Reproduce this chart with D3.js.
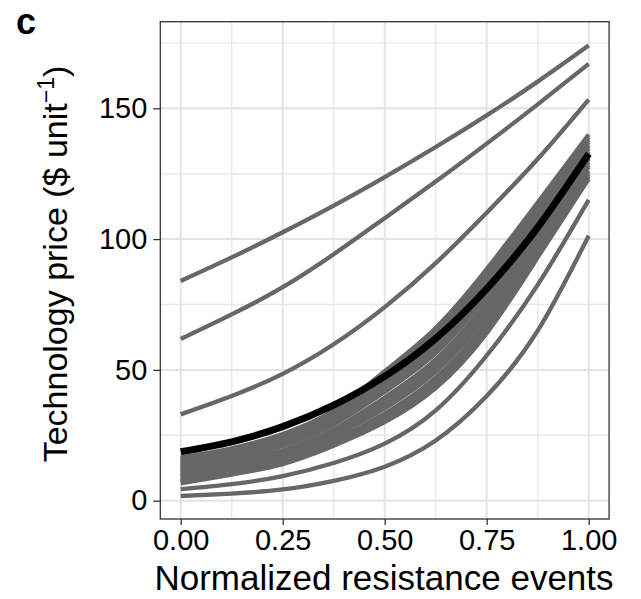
<!DOCTYPE html>
<html><head><meta charset="utf-8">
<script src="https://cdn.jsdelivr.net/npm/d3@7"></script>
<style>body{margin:0;background:#fff;} svg{display:block;font-family:"Liberation Sans",Arial,sans-serif;}</style>
</head><body>
<script>
// ---- data (x = normalized resistance events) ----
const xPoints = [0, 0.125, 0.25, 0.375, 0.5, 0.625, 0.75, 0.875, 1];
const xTicks = [0, 0.25, 0.5, 0.75, 1];
const xTickLabels = ["0.00", "0.25", "0.50", "0.75", "1.00"];
const yTicks = [0, 50, 100, 150];
const yTickLabels = ["0", "50", "100", "150"];

// grey scenario curves (technology price, $/unit)
const line1 = [84, 93, 102.6, 112.8, 123.7, 135.2, 147.3, 160.2, 174];
const line2 = [61.8, 71.2, 81.6, 94.2, 108, 122, 136.5, 151.5, 167];
const line3 = [33, 40, 48.5, 59.8, 74, 90.8, 110.1, 130.6, 153.3];
const b01 = [16.5, 20, 25.5, 34.5, 49.5, 66, 88.5, 114, 140];
const b02 = [15.9, 19.4, 24.8, 33.7, 48.4, 64.6, 87, 112.7, 139];
const b03 = [15.3, 18.8, 24.1, 32.9, 47.3, 63.2, 85.6, 111.5, 138];
const b04 = [14.7, 18.2, 23.4, 32.1, 46.1, 61.9, 84.1, 110.2, 136.9];
const b05 = [14, 17.5, 22.6, 31.1, 44.9, 60.3, 82.4, 108.8, 135.8];
const b06 = [13.4, 16.9, 21.9, 30.3, 43.7, 58.9, 80.9, 107.5, 134.7];
const b07 = [12.8, 16.3, 21.2, 29.5, 42.5, 57.5, 79.4, 106.2, 133.7];
const b08 = [12.1, 15.8, 20.9, 29.1, 41.6, 56.4, 78.3, 105.3, 132.8];
const b09 = [11.6, 14.8, 19.3, 27.3, 39.4, 54, 75.8, 103, 131.2];
const b10 = [11, 14.4, 19.1, 26.9, 38.7, 53.1, 74.8, 102.2, 130.5];
const b11 = [10.4, 13.8, 18.4, 26.1, 37.5, 51.7, 73.3, 101, 129.5];
const b12 = [9.7, 13.1, 17.6, 25.2, 36.1, 50.1, 71.6, 99.5, 128.3];
const b13 = [9.3, 12.8, 17.3, 24.8, 35.3, 49.2, 70.5, 98.7, 127.5];
const b14 = [8.3, 11.5, 15.8, 23.2, 33.3, 47, 68.2, 96.6, 126];
const b15 = [7.8, 11.2, 15.4, 22.6, 32.3, 45.8, 66.9, 95.5, 125];
const b16 = [7.2, 10.6, 14.7, 21.8, 31.1, 44.4, 65.4, 94.3, 124];
const b17 = [6.6, 10, 14, 21, 30, 43, 64, 93, 123];
const lower = [4.4, 6.3, 9.4, 14.4, 21.8, 34.5, 55.5, 82.5, 115];
const lowest = [1.8, 2.7, 4.3, 7.6, 13, 23, 40, 65, 101.3];
// central (black) curve
const central = [18.7, 22.5, 28.3, 36.5, 47.5, 62, 81, 104.5, 132.6];

const greySeries = [line1, line2, line3, b01, b02, b03, b04, b05, b06, b07, b08, b09,
  b10, b11, b12, b13, b14, b15, b16, b17, lower, lowest];

// ---- layout ----
const W = 641, H = 599;
const panel = {left: 160.3, right: 609.1, top: 21.7, bottom: 519};

const svg = d3.select("body").append("svg").attr("width", W).attr("height", H);

const x = d3.scaleLinear().domain([-0.05, 1.05]).range([panel.left, panel.right]);
const y = d3.scaleLinear().domain([-7, 183.1]).range([panel.bottom, panel.top]);

svg.append("rect").attr("x", panel.left).attr("y", panel.top)
  .attr("width", panel.right - panel.left).attr("height", panel.bottom - panel.top)
  .attr("fill", "#fff");

// grid
const grid = svg.append("g");
const xMinor = [0.125, 0.375, 0.625, 0.875];
const yMinor = [25, 75, 125, 175];
grid.selectAll(".xm").data(xMinor).join("line")
  .attr("x1", d => x(d)).attr("x2", d => x(d)).attr("y1", panel.top).attr("y2", panel.bottom)
  .attr("stroke", "#e8e8e8").attr("stroke-width", 1.4);
grid.selectAll(".ym").data(yMinor).join("line")
  .attr("y1", d => y(d)).attr("y2", d => y(d)).attr("x1", panel.left).attr("x2", panel.right)
  .attr("stroke", "#e8e8e8").attr("stroke-width", 1.4);
grid.selectAll(".xM").data(xTicks).join("line")
  .attr("x1", d => x(d)).attr("x2", d => x(d)).attr("y1", panel.top).attr("y2", panel.bottom)
  .attr("stroke", "#e3e3e3").attr("stroke-width", 2);
grid.selectAll(".yM").data(yTicks).join("line")
  .attr("y1", d => y(d)).attr("y2", d => y(d)).attr("x1", panel.left).attr("x2", panel.right)
  .attr("stroke", "#e3e3e3").attr("stroke-width", 2);

// lines
const lineGen = d3.line().x((d, i) => x(xPoints[i])).y(d => y(d)).curve(d3.curveNatural);
svg.append("clipPath").attr("id", "clip").append("rect")
  .attr("x", panel.left).attr("y", panel.top)
  .attr("width", panel.right - panel.left).attr("height", panel.bottom - panel.top);
const plot = svg.append("g").attr("clip-path", "url(#clip)");
plot.selectAll(".grey").data(greySeries).join("path")
  .attr("d", lineGen).attr("fill", "none").attr("stroke", "#676767")
  .attr("stroke-width", 4.3).attr("stroke-linecap", "butt");
plot.append("path").datum(central).attr("d", lineGen).attr("fill", "none")
  .attr("stroke", "#000").attr("stroke-width", 7).attr("stroke-linecap", "butt");

// panel border
svg.append("rect").attr("x", panel.left).attr("y", panel.top)
  .attr("width", panel.right - panel.left).attr("height", panel.bottom - panel.top)
  .attr("fill", "none").attr("stroke", "#333").attr("stroke-width", 1.3);

// axes
const xAxis = d3.axisBottom(x).tickValues(xTicks).tickFormat((d, i) => xTickLabels[i])
  .tickSize(6).tickPadding(4);
const gx = svg.append("g").attr("transform", `translate(0,${panel.bottom})`).call(xAxis);
gx.select(".domain").remove();
gx.selectAll(".tick line").attr("stroke", "#333").attr("stroke-width", 1.3);
gx.selectAll(".tick text").attr("fill", "#000").attr("font-size", 29)
  .attr("font-family", "Liberation Sans, Arial, sans-serif");

const yAxis = d3.axisLeft(y).tickValues(yTicks).tickFormat((d, i) => yTickLabels[i])
  .tickSize(7).tickPadding(6);
const gy = svg.append("g").attr("transform", `translate(${panel.left},0)`).call(yAxis);
gy.select(".domain").remove();
gy.selectAll(".tick line").attr("stroke", "#333").attr("stroke-width", 1.3);
gy.selectAll(".tick text").attr("fill", "#000").attr("font-size", 29)
  .attr("font-family", "Liberation Sans, Arial, sans-serif");

// axis titles
svg.append("text").attr("x", 384).attr("y", 590)
  .attr("text-anchor", "middle").attr("font-size", 35).attr("fill", "#000")
  .text("Normalized resistance events");

const yt = svg.append("text").attr("transform", `translate(67,${264}) rotate(-90)`)
  .attr("text-anchor", "middle").attr("font-size", 34).attr("fill", "#000");
yt.append("tspan").text("Technology price ($ unit");
yt.append("tspan").attr("dy", -13).attr("font-size", 23).text("\u22121");
yt.append("tspan").attr("dy", 13).text(")");

// panel tag
svg.append("text").attr("x", 16).attr("y", 34).attr("font-size", 36)
  .attr("font-weight", "bold").attr("fill", "#000").text("c");
</script>
</body></html>
